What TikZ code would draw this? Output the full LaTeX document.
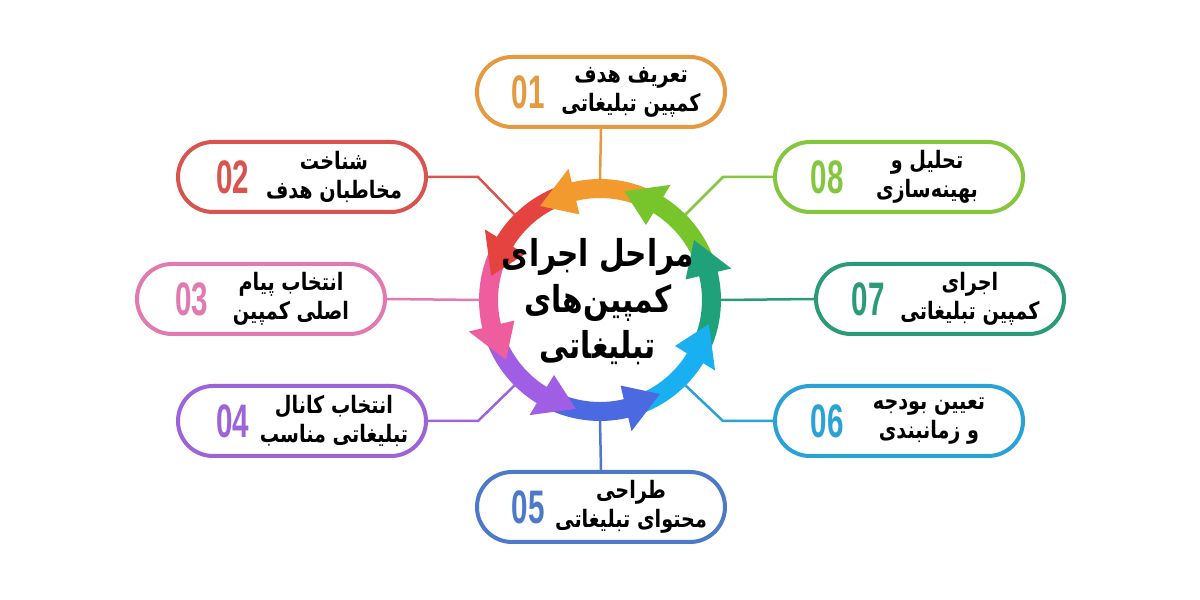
\documentclass[tikz,border=0pt]{standalone}
\usepackage{fontspec}
\usepackage{graphicx}
\usetikzlibrary{shapes.misc}
\TeXXeTstate=1
\newfontfamily\arabicfont[Script=Arabic]{DejaVu Sans}
\newfontfamily\numfont{Liberation Sans}[BoldFont={Liberation Sans Bold}]
\definecolor{c1}{HTML}{E59A3F}
\definecolor{c2}{HTML}{D9534F}
\definecolor{c3}{HTML}{E07AB0}
\definecolor{c4}{HTML}{9C64D8}
\definecolor{c5}{HTML}{4C79C9}
\definecolor{c6}{HTML}{2AA2D8}
\definecolor{c7}{HTML}{2B9A78}
\definecolor{c8}{HTML}{84C63E}
\definecolor{a1}{HTML}{F39A2E}
\definecolor{a2}{HTML}{E5433F}
\definecolor{a3}{HTML}{EE5D9E}
\definecolor{a4}{HTML}{9F5EE4}
\definecolor{a5}{HTML}{4B69E0}
\definecolor{a6}{HTML}{18B0F0}
\definecolor{a7}{HTML}{1FA27A}
\definecolor{a8}{HTML}{77C52A}
\newcommand\segbody[2]{%
  \fill[#1] ({#2-53}:102) arc[start angle={#2-53}, end angle={#2-8}, radius=102]
    -- ({#2-8}:121) arc[start angle={#2-8}, end angle={#2-53}, radius=121] -- cycle;}
\newcommand\seghead[2]{%
  \fill[#1] ({#2-9}:102) -- ({#2-9}:88) -- ({#2+10}:111.5) -- ({#2-9}:135) -- ({#2-9}:121) -- cycle;}
\newcommand\numtxt[1]{\scalebox{0.63}[1]{\numfont\bfseries\fontsize{47}{47}\selectfont #1}}
\tikzset{
  pill/.style={rounded rectangle, draw=#1, line width=4pt, fill=white,
    minimum width=248pt, minimum height=70pt, inner sep=0pt},
  num/.style={text=#1, inner sep=0pt},
  lbl/.style={font=\arabicfont\bfseries\fontsize{24}{29}\selectfont, align=center, text=black,
    inner sep=0pt, xscale=0.8, transform shape},
  conn/.style={draw=#1, line width=2.5pt},
}
\begin{document}
\begin{tikzpicture}[x=1pt,y=1pt]
\useasboundingbox (0,0) rectangle (1200,600);
\fill[white] (0,0) rectangle (1200,600);
\node[circle, minimum size=242pt, inner sep=0pt, outer sep=0pt] (ring) at (600,300) {};
% boxes
\node[pill=c1] (b1) at (601,508) {};
\node[pill=c2] (b2) at (302,423) {};
\node[pill=c3] (b3) at (261,301) {};
\node[pill=c4] (b4) at (302,179) {};
\node[pill=c5] (b5) at (601,93) {};
\node[pill=c6] (b6) at (899,179) {};
\node[pill=c7] (b7) at (940,301) {};
\node[pill=c8] (b8) at (899,423) {};
% connectors
\draw[conn=c1] (b1.south) -- (ring.90);
\draw[conn=c5] (b5.north) -- (ring.270);
\draw[conn=c3] (b3.east) -- (ring.180);
\draw[conn=c7] (b7.west) -- (ring.0);
\draw[conn=c2] (b2.east) -- ++(50,0) -- (ring.135);
\draw[conn=c4] (b4.east) -- ++(50,0) -- (ring.225);
\draw[conn=c6] (b6.west) -- ++(-50,0) -- (ring.315);
\draw[conn=c8] (b8.west) -- ++(-50,0) -- (ring.45);
% ring arrows
\begin{scope}[shift={(600,300)}]
\segbody{a1}{112.5}\segbody{a2}{157.5}\segbody{a3}{202.5}\segbody{a4}{247.5}
\segbody{a5}{292.5}\segbody{a6}{337.5}\segbody{a7}{22.5}\segbody{a8}{67.5}
\seghead{a1}{112.5}\seghead{a2}{157.5}\seghead{a3}{202.5}\seghead{a4}{247.5}
\seghead{a5}{292.5}\seghead{a6}{337.5}\seghead{a7}{22.5}\seghead{a8}{67.5}
\end{scope}
% title
\node[align=center, inner sep=0pt, xscale=0.8, transform shape,
      font=\arabicfont\bfseries\fontsize{37}{46}\selectfont] (title) at (598,298)
  {\beginR مراحل اجرای\endR\\\beginR کمپین‌های\endR\\\beginR تبلیغاتی\endR};
% numbers
\node[num=c1] (n1) at ([xshift=-73pt]b1.center) {\numtxt{01}};
\node[num=c2] (n2) at ([xshift=-69pt]b2.center) {\numtxt{02}};
\node[num=c3] (n3) at ([xshift=-69pt]b3.center) {\numtxt{03}};
\node[num=c4] (n4) at ([xshift=-69pt]b4.center) {\numtxt{04}};
\node[num=c5] (n5) at ([xshift=-73pt]b5.center) {\numtxt{05}};
\node[num=c6] (n6) at ([xshift=-72pt]b6.center) {\numtxt{06}};
\node[num=c7] (n7) at ([xshift=-72pt]b7.center) {\numtxt{07}};
\node[num=c8] (n8) at ([xshift=-72pt]b8.center) {\numtxt{08}};
% labels
\node[lbl] (t1) at ([xshift=30pt]b1.center) {\beginR تعریف هدف\endR\\\beginR کمپین تبلیغاتی\endR};
\node[lbl] (t2) at ([xshift=32pt]b2.center) {\beginR شناخت\endR\\\beginR مخاطبان هدف\endR};
\node[lbl] (t3) at ([xshift=30pt]b3.center) {\beginR انتخاب پیام\endR\\\beginR اصلی کمپین\endR};
\node[lbl] (t4) at ([xshift=32pt]b4.center) {\beginR انتخاب کانال\endR\\\beginR تبلیغاتی مناسب\endR};
\node[lbl] (t5) at ([xshift=30pt]b5.center) {\beginR طراحی\endR\\\beginR محتوای تبلیغاتی\endR};
\node[lbl] (t6) at ([xshift=30pt]b6.center) {\beginR تعیین بودجه\endR\\\beginR و زمانبندی\endR};
\node[lbl] (t7) at ([xshift=30pt]b7.center) {\beginR اجرای\endR\\\beginR کمپین تبلیغاتی\endR};
\node[lbl] (t8) at ([xshift=28pt]b8.center) {\beginR تحلیل و\endR\\\beginR بهینه‌سازی\endR};
\end{tikzpicture}
\end{document}
